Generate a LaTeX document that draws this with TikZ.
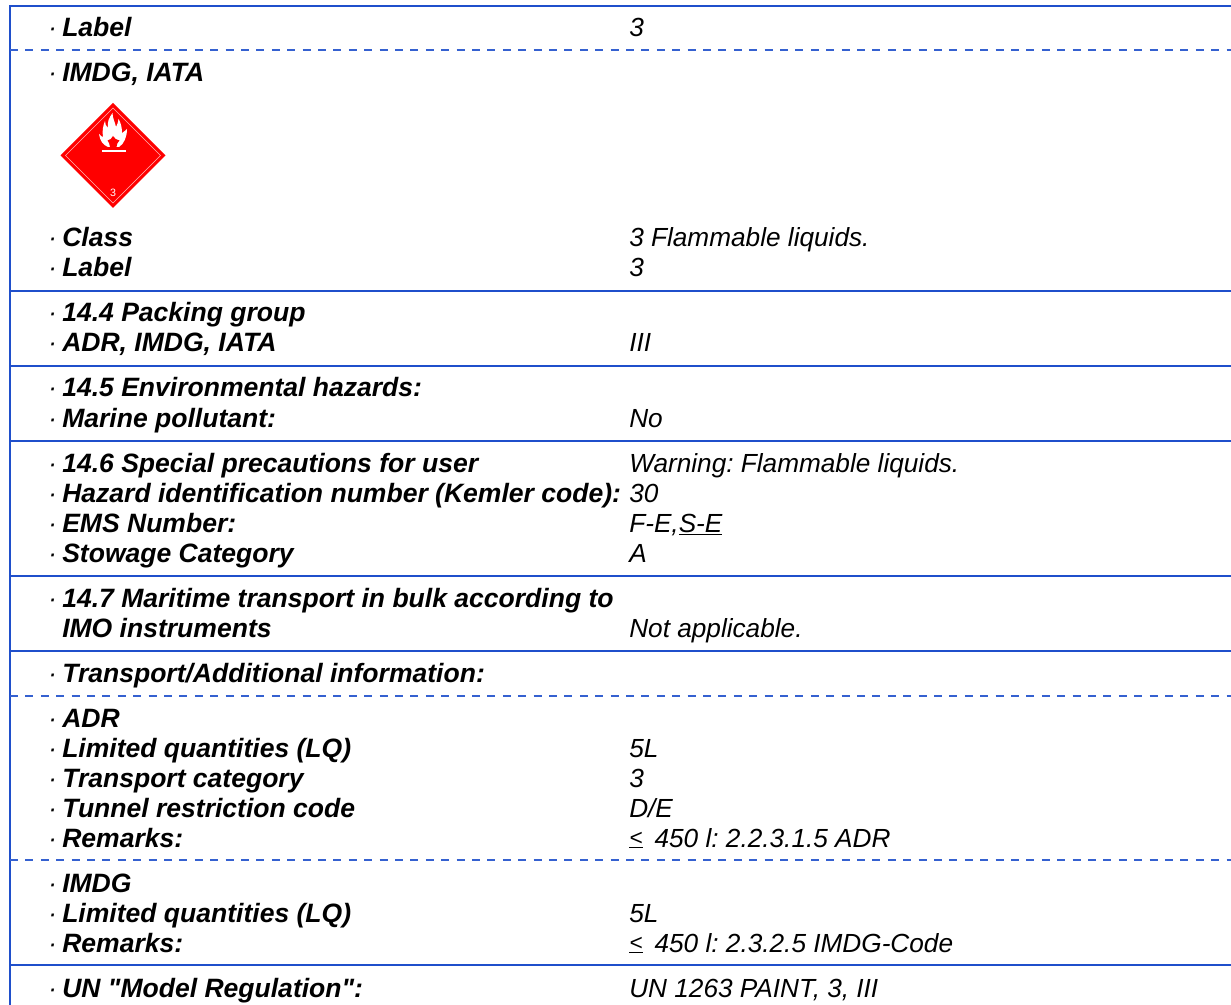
\documentclass[tikz,border=0pt]{standalone}
\usepackage{fontspec}
\setmainfont{Liberation Sans}[Ligatures=TeXOff]
\definecolor{rule}{HTML}{1F4FCB}
\definecolor{hazard}{HTML}{FF0000}
\frenchspacing
\tikzset{
  x=0.75pt,y=-0.75pt,
  lab/.style={anchor=base west,inner sep=0pt,font=\fontsize{19.9pt}{23pt}\selectfont\bfseries\itshape},
  val/.style={anchor=base west,inner sep=0pt,font=\fontsize{19.65pt}{23pt}\selectfont\itshape},
  dotm/.style={anchor=base west,inner sep=0pt,font=\fontsize{19.5pt}{23pt}\selectfont\itshape},
  solidrule/.style={draw=rule,line width=1.25pt},
  dashrule/.style={draw=rule!90,line width=0.85pt,dash pattern=on 6pt off 5.55pt},
}
\newcommand{\row}[4]{%
  \node[dotm] (d#1) at (48,#2) {·};
  \node[lab] (l#1) at (62,#2) {#3};
  \node[val] (v#1) at (629,#2) {#4};
}
\newcommand{\hrow}[3]{%
  \node[dotm] (d#1) at (48,#2) {·};
  \node[lab] (l#1) at (62,#2) {#3};
}
\newcommand{\lesym}{\makebox[19pt][l]{\rlap{\rule[-0.4pt]{10.5pt}{0.5pt}}\raisebox{0.9pt}{\fontsize{17pt}{17pt}\selectfont <}}}
\begin{document}
\begin{tikzpicture}
\useasboundingbox (0,0) rectangle (1231,1005);
\fill[white] (0,0) rectangle (1231,1005);
\coordinate (tl) at (10,6); \coordinate (tr) at (1231,6); \coordinate (bl) at (10,1005);
\draw[solidrule] (bl) -- (tl) -- (tr);
\foreach \y/\n in {291/a,366/b,441/c,576/d,651/e,965/f}{
  \coordinate (s\n) at (10,\y); \coordinate (t\n) at (1231,\y);
  \draw[solidrule] (s\n) -- (t\n);
}
\foreach \y/\n in {50/a,696/b,860/c}{
  \coordinate (p\n) at (10,\y); \coordinate (q\n) at (1231,\y);
  \draw[dashrule] (p\n) -- (q\n);
}
\row{1}{37}{Label}{3}
\hrow{2}{82}{IMDG, IATA}
\row{3}{247}{Class}{3 Flammable liquids.}
\row{4}{277}{Label}{3}
\hrow{5}{322}{14.4 Packing group}
\row{6}{352}{ADR, IMDG, IATA}{III}
\hrow{7}{397}{14.5 Environmental hazards:}
\row{8}{427}{Marine pollutant:}{No}
\row{9}{472}{14.6 Special precautions for user}{Warning: Flammable liquids.}
\row{10}{502}{Hazard identification number (Kemler code):}{30}
\row{11}{532}{EMS Number:}{F-E,\underline{S-E}}
\row{12}{562}{Stowage Category}{A}
\hrow{13}{607}{14.7 Maritime transport in bulk according to}
\node[lab] (l14) at (62,637) {IMO instruments};
\node[val] (v14) at (629,637) {Not applicable.};
\hrow{15}{682}{Transport/Additional information:}
\hrow{16}{727}{ADR}
\row{17}{757}{Limited quantities (LQ)}{5L}
\row{18}{787}{Transport category}{3}
\row{19}{817}{Tunnel restriction code}{D/E}
\row{20}{847}{Remarks:}{\lesym 450 l: 2.2.3.1.5 ADR}
\hrow{21}{892}{IMDG}
\row{22}{922}{Limited quantities (LQ)}{5L}
\row{23}{952}{Remarks:}{\lesym 450 l: 2.3.2.5 IMDG-Code}
\row{24}{997}{UN "Model Regulation":}{UN 1263 PAINT, 3, III}
% hazard diamond
\fill[hazard] (113,103) -- (165.5,155.5) -- (113,208) -- (60.5,155.5) -- cycle;
\draw[white,draw opacity=0.7,line width=0.4pt] (113,108) -- (160.5,155.5) -- (113,203) -- (65.5,155.5) -- cycle;
\fill[white] (108,147) .. controls (103,145) and (100,141) .. (99,134)
  .. controls (101,136) and (102,137) .. (103,137)
  .. controls (102,131) and (103,126) .. (105,121)
  .. controls (105,124) and (106,126) .. (108,128)
  .. controls (107,122) and (109,118) .. (112.5,113)
  .. controls (112.5,118) and (115,122) .. (116,127)
  .. controls (117,125) and (118,123) .. (118.5,119)
  .. controls (121,123) and (122,128) .. (122,133)
  .. controls (123,132) and (124,132) .. (127,129)
  .. controls (127,137) and (124,144) .. (119,147) -- cycle;
\fill[hazard] (113,136) .. controls (112,138.5) and (110,140) .. (107.5,140.5)
  .. controls (108.5,142) and (110,144) .. (110,147) -- (116.5,147)
  .. controls (116.5,144) and (118,142) .. (119.5,140.5)
  .. controls (117,140) and (114,138.5) .. (113,136) -- cycle;
\fill[white] (102,150) rectangle (126,152.3);
\node[white,inner sep=0pt,font=\fontsize{8pt}{8pt}\selectfont] (cls) at (113,193) {3};
\end{tikzpicture}
\end{document}
